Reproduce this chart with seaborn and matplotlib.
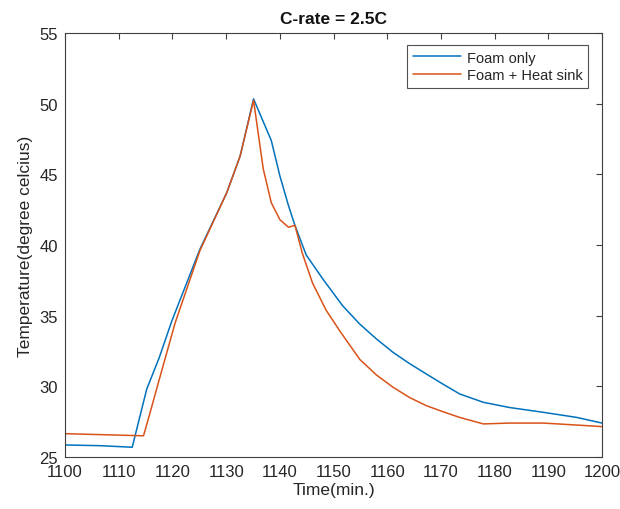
import matplotlib
matplotlib.use("Agg")
import matplotlib.pyplot as plt
import seaborn as sns
import pandas as pd

# ---- data ----
foam_x = [1100, 1106.5, 1112.5, 1115.2, 1117.5, 1119.9, 1125.1, 1130.1, 1132.6, 1135.1,
          1138.4, 1140.0, 1141.6, 1142.8, 1144.9, 1148.0, 1151.7, 1154.9,
          1158.0, 1161.1, 1164.2, 1167.3, 1170.4, 1173.5, 1177.9, 1182.8, 1189.1,
          1195.3, 1200]
foam_t = [25.85, 25.8, 25.69, 29.8, 32.0, 34.65, 39.7, 43.7, 46.3, 50.35,
          47.4, 44.9, 42.8, 41.4, 39.3, 37.6, 35.7, 34.4,
          33.35, 32.4, 31.6, 30.87, 30.15, 29.46, 28.87, 28.5, 28.16,
          27.8, 27.4]

sink_x = [1100, 1114.6, 1115.8, 1117.4, 1120.5, 1125.1, 1130.1, 1132.6, 1135.1,
          1136.9, 1138.4, 1140.0, 1141.6, 1142.8, 1144.2, 1146.1, 1148.6, 1151.2,
          1154.9, 1158.0, 1161.1, 1164.2, 1167.3, 1170.4, 1173.5, 1177.9, 1182.8,
          1189.1, 1195.3, 1200]
sink_t = [26.65, 26.5, 28.1, 30.3, 34.5, 39.6, 43.7, 46.3, 50.25,
          45.4, 43.0, 41.8, 41.26, 41.4, 39.4, 37.3, 35.4, 33.9,
          31.9, 30.8, 29.93, 29.2, 28.63, 28.2, 27.8, 27.34, 27.4,
          27.4, 27.26, 27.15]

series_names = ["Foam only", "Foam + Heat sink"]
title = "C-rate = 2.5C"
xlabel = "Time(min.)"
ylabel = "Temperature(degree celcius)"
xticks = list(range(1100, 1201, 10))
yticks = list(range(25, 56, 5))

df = pd.concat([
    pd.DataFrame({"x": foam_x, "y": foam_t, "s": series_names[0]}),
    pd.DataFrame({"x": sink_x, "y": sink_t, "s": series_names[1]}),
])

sns.set_style("white")
plt.rcParams["font.family"] = ["Liberation Sans", "DejaVu Sans"]

fig = plt.figure(figsize=(6.2, 5.1), dpi=100)
ax = fig.add_axes([0.105, 0.102, 0.866, 0.831])

palette = {series_names[0]: "#0072BD", series_names[1]: "#D95319"}
sns.lineplot(data=df, x="x", y="y", hue="s", palette=palette, sort=False,
             estimator=None, linewidth=1.1, ax=ax)

ax.set_xlim(1100, 1200)
ax.set_ylim(25, 55)
ax.set_xticks(xticks)
ax.set_yticks(yticks)
ax.tick_params(direction="in", length=4, width=0.8, colors="#404040",
               labelcolor="#262626", labelsize=12, top=True, right=True,
               pad=5)
for sp in ax.spines.values():
    sp.set_color("#404040")
    sp.set_linewidth(0.8)
ax.set_title(title, fontsize=12.5, fontweight="bold", color="#111111", pad=7)
ax.set_xlabel(xlabel, fontsize=12.5, color="#262626", labelpad=2)
ax.set_ylabel(ylabel, fontsize=12.5, color="#262626", labelpad=5)

leg = ax.legend(loc="upper right", fontsize=10.5, frameon=True, fancybox=False,
                edgecolor="#262626", handlelength=3.3, borderpad=0.4,
                labelspacing=0.25, handletextpad=0.4,
                bbox_to_anchor=(0.988, 0.99))
leg.get_frame().set_linewidth(0.8)
leg.set_title(None)

fig.savefig("out.png", dpi=100, facecolor="white")
